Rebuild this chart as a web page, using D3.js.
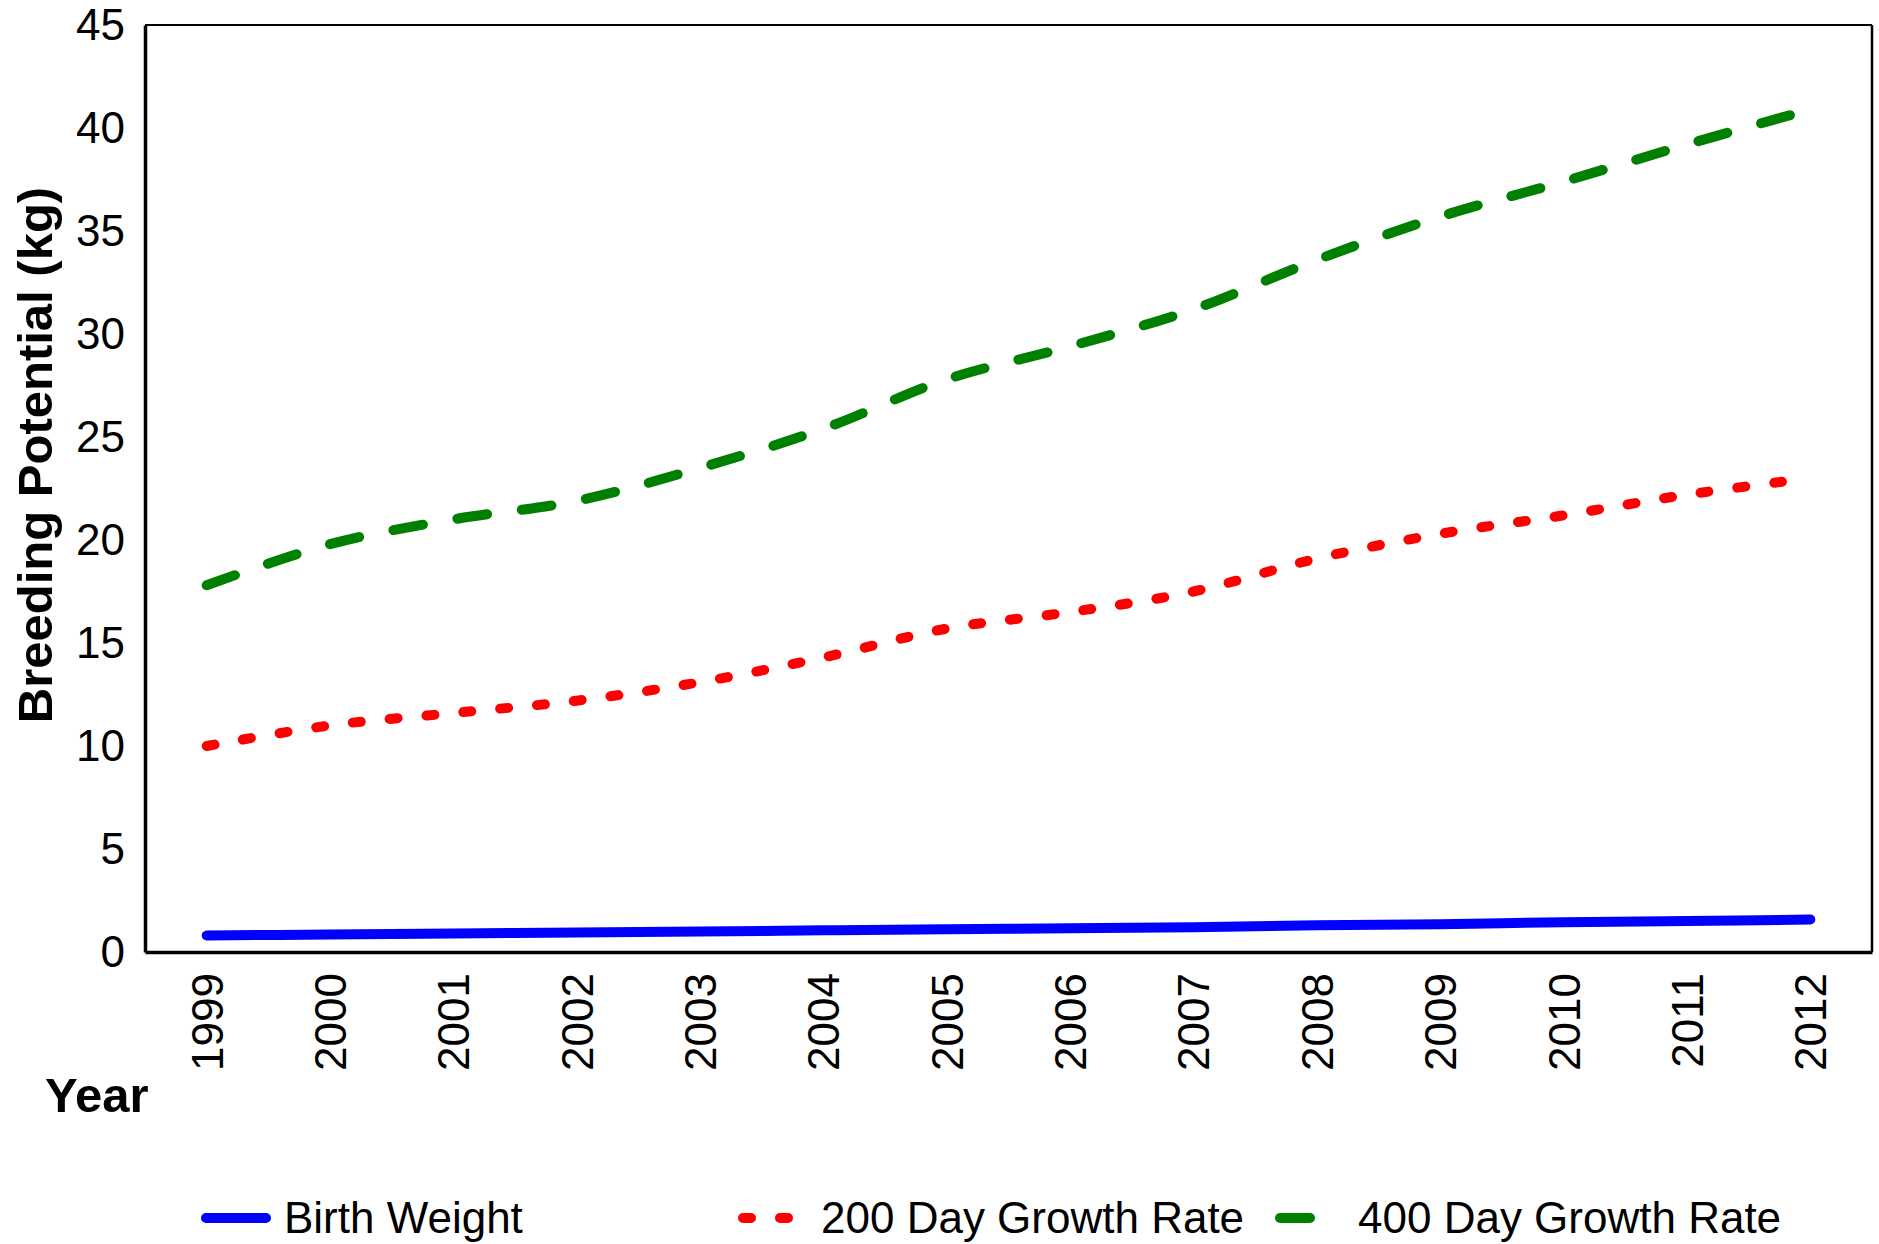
<!DOCTYPE html>
<html>
<head>
<meta charset="utf-8">
<script src="https://cdn.jsdelivr.net/npm/d3@7"></script>
<style>
	body { margin: 0; background: #fff; }
	text { font-family: "Liberation Sans", Arial, sans-serif; }
</style>
</head>
<body>
<div id="chart"></div>
<script>
var years = ["1999", "2000", "2001", "2002", "2003", "2004", "2005", "2006", "2007", "2008", "2009", "2010", "2011", "2012"]
var birthWeight = [0.8, 0.85, 0.9, 0.95, 1.0, 1.05, 1.1, 1.15, 1.2, 1.3, 1.35, 1.45, 1.5, 1.58]
var growth200 = [10.0, 11.0, 11.6, 12.2, 13.1, 14.3, 15.7, 16.5, 17.5, 19.1, 20.3, 21.2, 22.2, 23.0]
var growth400 = [17.8, 19.8, 21.0, 21.9, 23.5, 25.4, 27.8, 29.4, 31.2, 33.6, 35.7, 37.4, 39.2, 40.9]
var yTicks = [0, 5, 10, 15, 20, 25, 30, 35, 40, 45]

var series = [
	{ name: "Birth Weight", values: birthWeight, color: "#0000ff", dash: null },
	{ name: "200 Day Growth Rate", values: growth200, color: "#ff0000", dash: "8,29" },
	{ name: "400 Day Growth Rate", values: growth400, color: "#008000", dash: "30,35" }
]

var margin = { top: 25, left: 145, right: 7, bottom: 292 }
var width = 1879 - margin.left - margin.right
var height = 1244 - margin.top - margin.bottom

var svg = d3.select("#chart")
	.append("svg")
	.attr("width", 1879)
	.attr("height", 1244)

var g = svg.append("g")
	.attr("transform", "translate(" + margin.left + "," + margin.top + ")")

var x = d3.scalePoint()
	.domain(years)
	.range([0, width])
	.padding(0.5)

var y = d3.scaleLinear()
	.domain([0, 45])
	.range([height, 0])

// frame: thin top/right, heavier left/bottom
g.append("line").attr("x1", 0).attr("x2", width).attr("y1", 0).attr("y2", 0)
	.attr("stroke", "#000").attr("stroke-width", 2)
g.append("line").attr("x1", width).attr("x2", width).attr("y1", 0).attr("y2", height)
	.attr("stroke", "#000").attr("stroke-width", 2.5)

var yAxis = g.append("g")
	.call(d3.axisLeft(y).tickValues(yTicks).tickSize(0).tickPadding(20))
yAxis.select(".domain").attr("stroke", "#000").attr("stroke-width", 3.5)
yAxis.selectAll("text")
	.style("font-size", "44px")
	.attr("fill", "#000")

var xAxis = g.append("g")
	.attr("transform", "translate(0," + height + ")")
	.call(d3.axisBottom(x).tickSize(0))
xAxis.select(".domain").attr("stroke", "#000").attr("stroke-width", 3.5)
xAxis.selectAll("text")
	.style("font-size", "44px")
	.attr("fill", "#000")
	.attr("text-anchor", "end")
	.attr("transform", "rotate(-90)")
	.attr("x", -21)
	.attr("y", 0)
	.attr("dy", "0.35em")

var line = d3.line()
	.x(function(d, i) { return x(years[i]) })
	.y(function(d) { return y(d) })
	.curve(d3.curveCatmullRom.alpha(0.5))

g.selectAll(".series")
	.data(series)
	.enter().append("path")
	.attr("class", "series")
	.attr("d", function(d) { return line(d.values) })
	.attr("fill", "none")
	.attr("stroke", function(d) { return d.color })
	.attr("stroke-width", 10)
	.attr("stroke-linecap", "round")
	.attr("stroke-dasharray", function(d) { return d.dash })

// axis titles
svg.append("text")
	.attr("transform", "translate(52,455) rotate(-90)")
	.attr("text-anchor", "middle")
	.style("font-size", "49px")
	.style("font-weight", "bold")
	.text("Breeding Potential (kg)")

svg.append("text")
	.attr("x", 45)
	.attr("y", 1112)
	.style("font-size", "49px")
	.style("font-weight", "bold")
	.text("Year")

// legend
var legend = svg.selectAll(".legend")
	.data(series)
	.enter().append("g")
	.attr("class", "legend")
	.attr("transform", function(d, i) { return "translate(" + (206 + i * 537) + ",1218)" })

legend.append("line")
	.attr("x1", 0).attr("x2", 60)
	.attr("stroke", function(d) { return d.color })
	.attr("stroke-width", 10)
	.attr("stroke-linecap", "round")
	.attr("stroke-dasharray", function(d) { return d.dash })

legend.append("text")
	.attr("x", 78)
	.attr("dy", "0.35em")
	.style("font-size", "44px")
	.text(function(d) { return d.name })
</script>
</body>
</html>
